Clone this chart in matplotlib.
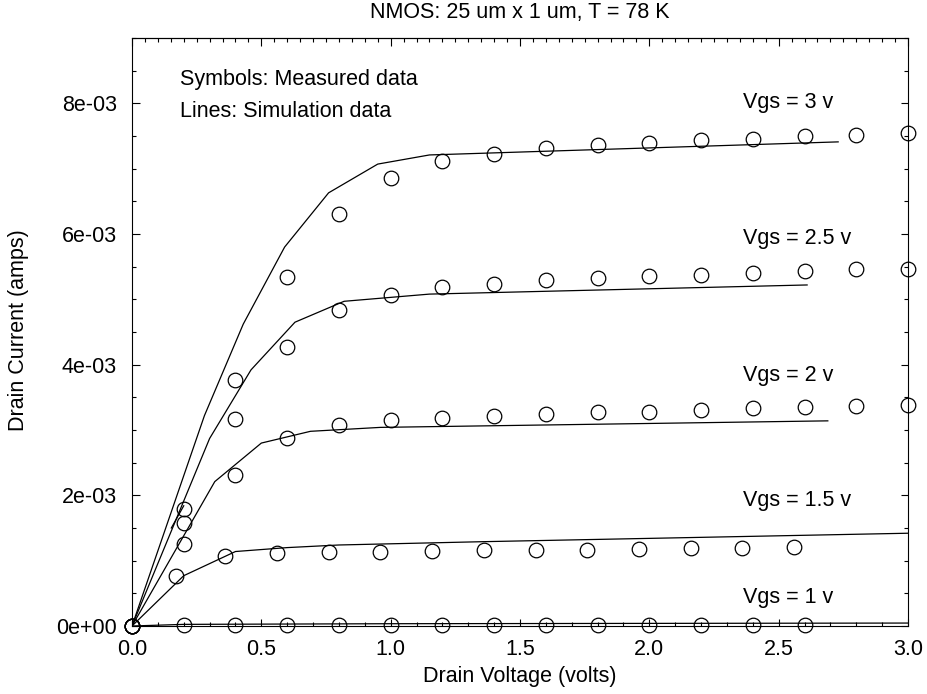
import matplotlib
matplotlib.use("Agg")
import matplotlib.pyplot as plt
from matplotlib.ticker import MultipleLocator, FuncFormatter

plt.rcParams['font.family'] = ['Liberation Sans', 'DejaVu Sans']

# measured data (drain voltage in volts, drain current in mA)
v_meas = [0.0, 0.2, 0.4, 0.6, 0.8, 1.0, 1.2, 1.4, 1.6, 1.8, 2.0, 2.2, 2.4, 2.6, 2.8, 3.0]
i_meas_3 = [0, 1.79, 3.77, 5.34, 6.31, 6.85, 7.11, 7.23, 7.31, 7.36, 7.40, 7.44, 7.46, 7.50, 7.52, 7.55]
i_meas_25 = [0, 1.57, 3.17, 4.27, 4.83, 5.07, 5.19, 5.24, 5.29, 5.32, 5.35, 5.38, 5.41, 5.43, 5.46, 5.47]
i_meas_2 = [0, 1.26, 2.31, 2.87, 3.07, 3.15, 3.18, 3.22, 3.24, 3.27, 3.28, 3.31, 3.33, 3.35, 3.37, 3.38]
v_meas_15 = [0.0, 0.17, 0.36, 0.56, 0.76, 0.96, 1.16, 1.36, 1.56, 1.76, 1.96, 2.16, 2.36, 2.56]
i_meas_15 = [0, 0.77, 1.07, 1.11, 1.13, 1.14, 1.155, 1.165, 1.165, 1.165, 1.18, 1.19, 1.20, 1.215]
v_meas_1 = [0.0, 0.2, 0.4, 0.6, 0.8, 1.0, 1.2, 1.4, 1.6, 1.8, 2.0, 2.2, 2.4, 2.6]
i_meas_1 = [0, 0.02, 0.02, 0.02, 0.02, 0.02, 0.02, 0.02, 0.02, 0.02, 0.02, 0.02, 0.02, 0.02]

# simulation data (mA)
sim3_v = [0.0, 0.28, 0.43, 0.59, 0.76, 0.95, 1.15, 2.73]
sim3_i = [0, 3.22, 4.62, 5.80, 6.63, 7.07, 7.21, 7.41]
sim25_v = [0.0, 0.30, 0.46, 0.63, 0.82, 1.15, 2.61]
sim25_i = [0, 2.87, 3.92, 4.65, 4.97, 5.08, 5.22]
sim25_stub_v = [0.152, 0.20]
sim25_stub_i = [1.50, 1.84]
sim2_v = [0.0, 0.32, 0.50, 0.69, 0.96, 2.69]
sim2_i = [0, 2.21, 2.80, 2.98, 3.04, 3.14]
sim15_v = [0.0, 0.20, 0.40, 0.60, 0.80, 1.35, 3.0]
sim15_i = [0, 0.77, 1.14, 1.20, 1.24, 1.29, 1.42]
sim1_v = [0.0, 0.2, 1.0, 3.0]
sim1_i = [0, 0.025, 0.035, 0.045]

curve_labels = ["Vgs = 3 v", "Vgs = 2.5 v", "Vgs = 2 v", "Vgs = 1.5 v", "Vgs = 1 v"]
label_y = [7.93, 5.84, 3.745, 1.84, 0.357]

fs = 15.5
W, H = 927, 694
fig = plt.figure(figsize=(W / 100, H / 100), dpi=100)
ax = fig.add_axes([132 / W, 68 / H, 776 / W, 588 / H])

mA = lambda arr: [x * 1e-3 for x in arr]

# simulation lines
for v, i in [(sim3_v, sim3_i), (sim25_v, sim25_i), (sim25_stub_v, sim25_stub_i),
             (sim2_v, sim2_i), (sim15_v, sim15_i), (sim1_v, sim1_i)]:
    ax.plot(v, mA(i), color='black', linewidth=0.9)

# measured symbols
for v, i in [(v_meas, i_meas_3), (v_meas, i_meas_25), (v_meas, i_meas_2),
             (v_meas_15, i_meas_15), (v_meas_1, i_meas_1)]:
    ax.plot(v, mA(i), 'o', mfc='none', mec='black', ms=10.5, mew=0.9, clip_on=False)

for lab, y in zip(curve_labels, label_y):
    ax.text(2.362, y * 1e-3, lab, fontsize=fs, va='baseline', ha='left')

ax.text(48 / 776, (626 - 85) / 588, "Symbols: Measured data", transform=ax.transAxes,
        fontsize=fs, va='baseline')
ax.text(48 / 776, (626 - 117.3) / 588, "Lines: Simulation data", transform=ax.transAxes,
        fontsize=fs, va='baseline')

ax.set_xlim(0, 3.0)
ax.set_ylim(0, 9e-3)
ax.xaxis.set_major_locator(MultipleLocator(0.5))
ax.xaxis.set_minor_locator(MultipleLocator(0.1))
ax.yaxis.set_major_locator(MultipleLocator(2e-3))
ax.yaxis.set_minor_locator(MultipleLocator(0.5e-3))
ax.xaxis.set_major_formatter(FuncFormatter(lambda v, p: f"{v:.1f}"))
ax.yaxis.set_major_formatter(FuncFormatter(lambda v, p: f"{v:.0e}"))

ax.tick_params(which='both', direction='in', right=True, top=False, width=0.8, labelsize=fs)
ax.tick_params(axis='x', which='major', pad=9.4)
ax.tick_params(axis='y', which='major', pad=10.8)
ax.tick_params(which='major', length=5.4)
ax.tick_params(which='minor', length=2.7)

top = ax.secondary_xaxis('top')
top.xaxis.set_major_locator(MultipleLocator(0.5))
top.xaxis.set_minor_locator(MultipleLocator(0.05))
top.tick_params(which='both', direction='in', width=0.8, labeltop=False)
top.tick_params(which='major', length=5.4)
top.tick_params(which='minor', length=2.7)

for s in ax.spines.values():
    s.set_linewidth(0.8)
top.spines['top'].set_linewidth(0.8)

fig.text(520 / W, 1 - 18.3 / H, "NMOS: 25 um x 1 um, T = 78 K", ha='center', va='baseline', fontsize=fs)
fig.text(520 / W, 1 - 681.7 / H, "Drain Voltage (volts)", ha='center', va='baseline', fontsize=fs)
fig.text(19 / W, 1 - 330 / H, "Drain Current (amps)", ha='center', va='center',
         rotation=90, fontsize=fs)

fig.savefig("out.png", dpi=100)
